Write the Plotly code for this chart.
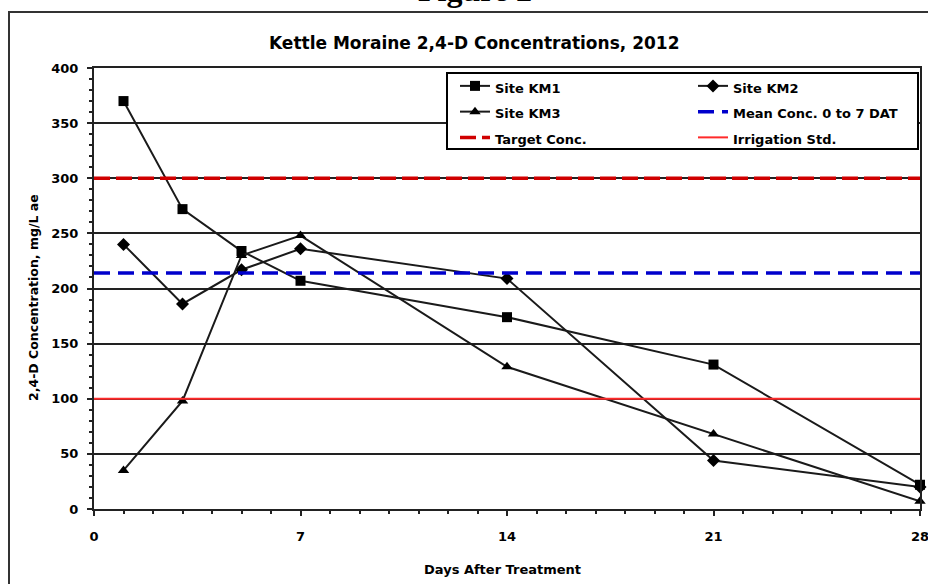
import plotly.graph_objects as go

days = [1, 3, 5, 7, 14, 21, 28]
km1 = [370, 272, 234, 207, 174, 131, 22]
km2 = [240, 186, 217, 236, 209, 44, 20]
km3 = [35, 98, 230, 248, 129, 68, 7]
mean_conc = 214
target_conc = 300
irrigation_std = 100
x_range = [0, 28]
x_ticks = [0, 7, 14, 21, 28]
y_ticks = [0, 50, 100, 150, 200, 250, 300, 350, 400]

FONT = "DejaVu Sans"

# helpers convert window pixel positions to paper coordinates of the plot area (94..920, 68..509)
def px(xw):
    return (xw - 94) / 826


def py(yw):
    return (509 - yw) / 441


def lg(name):
    return f'<span style="font-size:13px"><b>{name}</b></span>'


fig = go.Figure()
common = dict(mode="lines+markers", line=dict(color="#1a1a1a", width=2), cliponaxis=False)
fig.add_trace(go.Scatter(x=days, y=km1, name=lg("Site KM1"), legend="legend",
                         marker=dict(symbol="square", size=10, color="black"), **common))
fig.add_trace(go.Scatter(x=days, y=km2, name=lg("Site KM2"), legend="legend2",
                         marker=dict(symbol="diamond", size=10, color="black"), **common))
fig.add_trace(go.Scatter(x=days, y=km3, name=lg("Site KM3"), legend="legend",
                         marker=dict(symbol="triangle-up", size=10, color="black"), **common))
fig.add_trace(go.Scatter(x=x_range, y=[mean_conc] * 2, mode="lines", name=lg("Mean Conc. 0 to 7 DAT"),
                         legend="legend2",
                         line=dict(color="#0000CC", width=3.5, dash="16px,8px")))
fig.add_trace(go.Scatter(x=x_range, y=[target_conc] * 2, mode="lines", name=lg("Target Conc."),
                         legend="legend",
                         line=dict(color="#D00000", width=3.5, dash="16px,6px")))
fig.add_trace(go.Scatter(x=x_range, y=[irrigation_std] * 2, mode="lines", name=lg("Irrigation Std."),
                         legend="legend2",
                         line=dict(color="#FF2A2A", width=2)))

leg_common = dict(orientation="v", xanchor="left", yanchor="top", bgcolor="rgba(0,0,0,0)",
                  borderwidth=0, font=dict(family=FONT, size=17.5, color="black"),
                  traceorder="normal")

fig.update_layout(
    width=928, height=584,
    margin=dict(l=94, r=8, t=68, b=75, autoexpand=False),
    paper_bgcolor="white", plot_bgcolor="white",
    font=dict(family=FONT, size=13, color="black"),
    showlegend=True,
    legend=dict(x=px(455), y=py(68), **leg_common),
    legend2=dict(x=px(693), y=py(68), **leg_common),
    xaxis=dict(range=x_range, tickvals=x_ticks, ticktext=[f"<b>{v}</b>" for v in x_ticks],
               showgrid=False, zeroline=False, showline=True, linecolor="#222", linewidth=2,
               mirror=True, ticks="outside", ticklen=5, tickwidth=1.5, tickcolor="#222",
               ticklabelstandoff=9, ticklabeloverflow="allow",
               minor=dict(dtick=1, ticks="outside", ticklen=3, tickwidth=1.5, tickcolor="#222", showgrid=False),
               tickfont=dict(family=FONT, size=13)),
    yaxis=dict(range=[0, 400], tickvals=y_ticks, ticktext=[f"<b>{v}</b>" for v in y_ticks],
               showgrid=True, gridcolor="#222", gridwidth=1.5, zeroline=False,
               showline=True, linecolor="#222", linewidth=2, mirror=True,
               ticks="outside", ticklen=5, tickwidth=1.5, tickcolor="#222",
               ticklabelstandoff=6, ticklabeloverflow="allow",
               minor=dict(dtick=10, ticks="outside", ticklen=3, tickwidth=1.5, tickcolor="#222", showgrid=False),
               tickfont=dict(family=FONT, size=13)),
    annotations=[
        dict(text="<b>Kettle Moraine 2,4-D Concentrations, 2012</b>", xref="paper", yref="paper",
             x=px(474), y=py(43), xanchor="center", yanchor="middle",
             showarrow=False, font=dict(family=FONT, size=17)),
        dict(text="<b>Days After Treatment</b>", xref="paper", yref="paper",
             x=px(502), y=py(569), xanchor="center", yanchor="middle",
             showarrow=False, font=dict(family=FONT, size=13)),
        dict(text="<b>2,4-D Concentration, mg/L ae</b>", xref="paper", yref="paper",
             x=px(33), y=py(298), xanchor="center", yanchor="middle",
             textangle=-90, showarrow=False, font=dict(family=FONT, size=12.5)),
        dict(text="<b>Figure 2</b>", xref="paper", yref="paper",
             x=px(475), y=py(-10), xanchor="center", yanchor="middle",
             showarrow=False, font=dict(family="Liberation Serif", size=32)),
    ],
    shapes=[
        dict(type="rect", xref="paper", yref="paper",
             x0=px(9), x1=px(960), y0=py(620), y1=py(12),
             line=dict(color="#333", width=2), fillcolor="rgba(0,0,0,0)", layer="above"),
        dict(type="rect", xref="paper", yref="paper",
             x0=px(447), x1=px(918), y0=py(149), y1=py(73),
             line=dict(color="black", width=2), fillcolor="white", layer="above"),
    ],
)

fig.write_html(
    "out.html",
    config={"displayModeBar": False},
    post_script="document.body.style.margin='0';document.body.style.overflow='hidden';",
)
